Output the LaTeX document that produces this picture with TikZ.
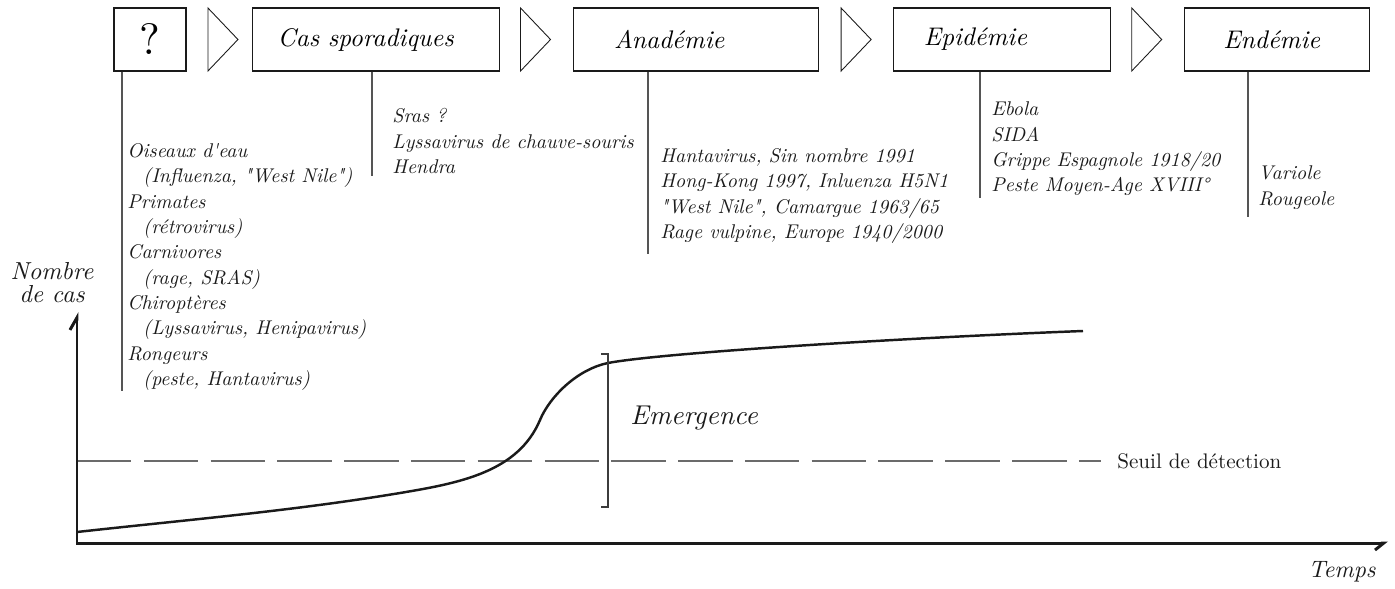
\documentclass[tikz,border=0pt]{standalone}
\usepackage{fontspec}
\setmainfont{lmroman10-regular.otf}[ItalicFont=lmroman10-italic.otf,
  BoldFont=lmroman10-bold.otf, Ligatures=TeXOff]
\usetikzlibrary{shapes.geometric, arrows.meta, positioning, calc}
\definecolor{stemgray}{HTML}{555555}
\definecolor{dashgray}{HTML}{6B6B6B}
\definecolor{ink}{HTML}{1A1A1A}
\tikzset{
  stage/.style   = {rectangle, draw=ink, line width=0.6pt, minimum height=1.26cm,
                    inner sep=0pt, align=left,
                    font=\fontsize{14.5}{17}\selectfont\itshape},
  chevron/.style = {isosceles triangle, isosceles triangle stretches, draw=ink,
                    line width=0.5pt, inner sep=0pt,
                    minimum width=1.26cm, minimum height=0.6cm},
  cases/.style   = {inner sep=0pt, align=left, anchor=west, text=ink,
                    font=\fontsize{11.3}{14.4}\selectfont\itshape},
  stem/.style    = {draw=stemgray, line width=0.6pt},
  axis/.style    = {draw=ink, line width=1.7pt, line join=miter},
  growth/.style  = {draw=ink, line width=1.4pt},
  threshold/.style = {draw=dashgray, line width=1pt,
                    dash pattern=on 1.09cm off 0.246cm},
  bracket/.style = {draw=ink!85, line width=0.8pt},
  caption/.style = {inner sep=0pt, text=ink,
                    font=\fontsize{15.5}{18}\selectfont\itshape},
}

\begin{document}
\begin{tikzpicture}[x=0.02cm, y=-0.02cm]
  \useasboundingbox (0,0) rectangle (1395,588);

  % stages
  \node[stage, align=center, text width=1.44cm,
        font=\fontsize{25}{25}\selectfont] (qm) at (150,39.5) {?};
  \node[chevron, right=0.42cm of qm] (t1) {};
  \node[stage, text width=4.94cm, right=0.26cm of t1] (spor) {\hspace*{0.5cm}Cas sporadiques};
  \node[chevron, right=0.4cm of spor] (t2) {};
  \node[stage, text width=4.9cm, right=0.42cm of t2] (anad) {\hspace*{0.82cm}Anadémie};
  \node[chevron, right=0.44cm of anad] (t3) {};
  \node[stage, text width=4.34cm, right=0.42cm of t3] (epid) {\hspace*{0.6cm}Epidémie};
  \node[chevron, right=0.4cm of epid] (t4) {};
  \node[stage, text width=3.7cm, right=0.42cm of t4] (endm) {\hspace*{0.78cm}Endémie};

  % examples under each stage
  \node[cases] (hosts) at (127,267) {Oiseaux d'eau\\
    \hspace*{9pt}(Influenza, "West Nile")\\ Primates\\ \hspace*{9pt}(rétrovirus)\\
    Carnivores\\ \hspace*{9pt}(rage, SRAS)\\ Chiroptères\\
    \hspace*{9pt}(Lyssavirus, Henipavirus)\\ Rongeurs\\ \hspace*{9pt}(peste, Hantavirus)};
  \node[cases] (spor-list) at (392,141) {Sras ?\\ Lyssavirus de chauve-souris\\ Hendra};
  \node[cases] (anad-list) at (660,196) {Hantavirus, Sin nombre 1991\\
    Hong-Kong 1997, Inluenza H5N1\\ "West Nile", Camargue 1963/65\\
    Rage vulpine, Europe 1940/2000};
  \node[cases] (epid-list) at (991,149) {Ebola\\ SIDA\\ Grippe Espagnole 1918/20\\
    Peste Moyen-Age XVIII°};
  \node[cases] (endm-list) at (1258,187.5) {Variole\\ Rougeole};

  \coordinate (s1) at ($(hosts.west)+(-5,0)$);
  \coordinate (s2) at ($(spor-list.west)+(-20,0)$);
  \coordinate (s3) at ($(anad-list.west)+(-12,0)$);
  \coordinate (s4) at ($(epid-list.west)+(-11,0)$);
  \coordinate (s5) at ($(endm-list.west)+(-10,0)$);
  \draw[stem] (s1 |- qm.south) -- (s1 |- hosts.south);
  \draw[stem] (s2 |- spor.south) -- ($(s2 |- spor-list.south)+(0,2)$);
  \draw[stem] (s3 |- anad.south) -- ($(s3 |- anad-list.south)+(0,10)$);
  \draw[stem] (s4 |- epid.south) -- ($(s4 |- epid-list.south)+(0,2)$);
  \draw[stem] (s5 |- endm.south) -- ($(s5 |- endm-list.south)+(0,8)$);

  % graph
  \coordinate (O) at (77,543);
  \coordinate (ytop) at (77,312);
  \coordinate (xend) at (1388,543);
  \node[align=center, inner sep=0pt, text=ink,
        font=\fontsize{14}{13}\selectfont\itshape] (ylab) at (52,283) {Nombre\\de cas};
  \node[caption, font=\fontsize{13.5}{16}\selectfont\itshape] (xlab) at (1342,572) {Temps};
  \node[inner sep=0pt, anchor=west, text=ink,
        font=\fontsize{12}{14}\selectfont] (seuil) at (1117,461) {Seuil de détection};

  \draw[threshold] (O |- seuil.west) -- ($(seuil.west)+(-16,0)$);
  \draw[axis, {Straight Barb[left, length=7pt, width=8pt]}-{Straight Barb[right, length=5pt, width=8pt]}]
    (ytop) -- (O) -- (xend);

  \draw[growth] (77,532) .. controls (185,520) and (292,511) .. (400,493)
    .. controls (460,483) and (518,472) .. (540,420)
    .. controls (550,396) and (578,369) .. (608,363)
    .. controls (660,353) and (900,338) .. (1083,331);

  \draw[bracket] (601,354) -- (608,354) -- (608,507) -- (601,507);
  \node[caption, anchor=west] (emer) at (630,418) {Emergence};
\end{tikzpicture}
\end{document}
